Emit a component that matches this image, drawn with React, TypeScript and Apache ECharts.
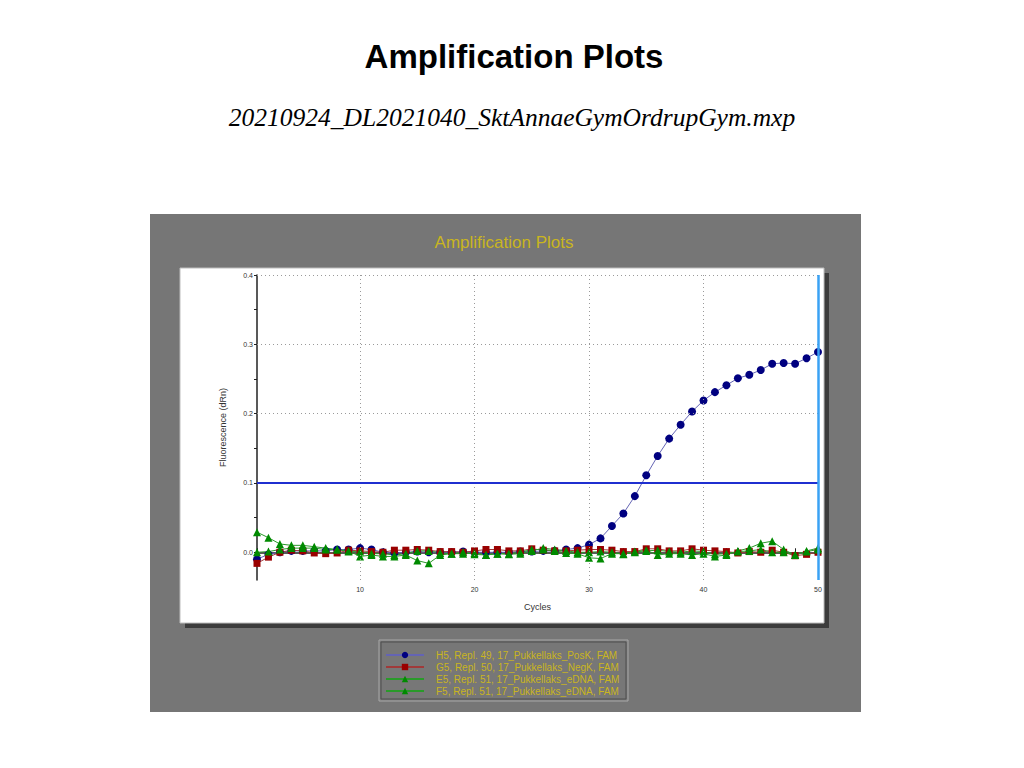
import React, { useEffect, useRef } from 'react';
import * as echarts from 'echarts';

// cycle numbers on the x axis
const cycles = [
  1, 2, 3, 4, 5, 6, 7, 8, 9, 10, 11, 12, 13, 14, 15, 16, 17, 18, 19, 20, 21, 22, 23, 24, 25,
  26, 27, 28, 29, 30, 31, 32, 33, 34, 35, 36, 37, 38, 39, 40, 41, 42, 43, 44, 45, 46, 47, 48, 49, 50,
];

const seriesNames = [
  'H5, Repl. 49, 17_Pukkellaks_PosK, FAM',
  'G5, Repl. 50, 17_Pukkellaks_NegK, FAM',
  'E5, Repl. 51, 17_Pukkellaks_eDNA, FAM',
  'F5, Repl. 51, 17_Pukkellaks_eDNA, FAM',
];

const posK = [
  -0.010, -0.003, 0.000, 0.002, 0.002, 0.002, 0.002, 0.004, 0.004, 0.006,
  0.004, 0.000, -0.001, 0.000, 0.001, 0.000, 0.000, 0.000, 0.001, 0.000,
  0.000, 0.000, 0.000, 0.001, 0.001, 0.002, 0.002, 0.004, 0.006, 0.011,
  0.020, 0.038, 0.056, 0.081, 0.111, 0.139, 0.164, 0.184, 0.203, 0.219,
  0.231, 0.241, 0.251, 0.256, 0.263, 0.272, 0.273, 0.272, 0.280, 0.289,
];

const negK = [
  -0.016, -0.007, 0.000, 0.003, 0.002, -0.001, -0.002, -0.001, 0.003, 0.002,
  0.001, 0.000, 0.003, 0.003, 0.004, 0.003, 0.001, 0.001, 0.000, 0.002,
  0.004, 0.004, 0.002, 0.002, 0.005, 0.003, 0.002, 0.002, 0.003, 0.004,
  0.004, 0.003, 0.001, 0.001, 0.005, 0.005, 0.002, 0.002, 0.005, 0.003,
  0.002, 0.001, -0.001, 0.001, 0.000, 0.003, 0.000, -0.005, -0.003, 0.000,
];

const eDnaE5 = [
  0.029, 0.021, 0.012, 0.010, 0.010, 0.008, 0.006, 0.004, 0.002, -0.006,
  -0.004, -0.006, -0.006, -0.004, -0.012, -0.016, -0.004, -0.002, -0.002, -0.001,
  -0.004, -0.002, -0.002, 0.000, 0.004, 0.004, 0.002, -0.001, -0.002, -0.008,
  -0.009, -0.002, -0.002, 0.000, 0.003, -0.004, -0.002, -0.002, -0.004, -0.002,
  -0.006, -0.004, 0.002, 0.006, 0.013, 0.016, 0.004, -0.004, 0.002, 0.006,
];

const eDnaF5 = [
  0.000, 0.001, 0.004, 0.006, 0.006, 0.006, 0.004, 0.004, 0.001, 0.001,
  -0.002, -0.002, -0.004, -0.002, 0.002, 0.002, -0.001, -0.002, 0.000, -0.003,
  -0.004, -0.002, -0.003, -0.002, 0.002, 0.006, 0.004, 0.002, 0.000, 0.000,
  0.001, 0.000, -0.003, 0.001, 0.002, 0.003, 0.001, 0.000, 0.002, 0.001,
  -0.003, -0.002, 0.001, 0.002, 0.004, 0.000, 0.000, -0.004, 0.001, 0.004,
];

const xLabels = [10, 20, 30, 40, 50];
const yLabels = [0, 0.1, 0.2, 0.3, 0.4];
const yTicks = [0, 0.05, 0.1, 0.15, 0.2, 0.25, 0.3, 0.35, 0.4];
const threshold = 0.1;

const FONT = '"Liberation Sans", Arial, sans-serif';
const YELLOW = '#c9b520';

const App: React.FC = () => {
  const chartRef = useRef<HTMLDivElement>(null);

  useEffect(() => {
    if (!chartRef.current) return;
    const chart = echarts.init(chartRef.current, null, { renderer: 'svg' });

    const pairs = (vals: number[]) => cycles.map((c, i) => [c, vals[i]]);

    const option = {
      animation: false,
      backgroundColor: '#ffffff',
      graphic: [
        {
          type: 'text',
          x: 514,
          y: 56,
          style: {
            text: 'Amplification Plots',
            font: `bold 33px ${FONT}`,
            fill: '#000',
            align: 'center',
            verticalAlign: 'middle',
          },
        },
        {
          type: 'text',
          x: 512,
          y: 117,
          style: {
            text: '20210924_DL2021040_SktAnnaeGymOrdrupGym.mxp',
            font: 'italic 25.5px "Liberation Serif", "Times New Roman", serif',
            fill: '#000',
            align: 'center',
            verticalAlign: 'middle',
          },
        },
        // grey frame
        { type: 'rect', z: -20, shape: { x: 150, y: 214, width: 711, height: 498 }, style: { fill: '#767676' } },
        // panel shadow + white plot panel
        { type: 'rect', z: -19, shape: { x: 185, y: 273, width: 644, height: 355 }, style: { fill: '#3c3c3c' } },
        { type: 'rect', z: -18, shape: { x: 180, y: 268, width: 644, height: 355 }, style: { fill: '#ffffff', stroke: '#bdbdbd', lineWidth: 1 } },
        {
          type: 'text',
          z: -17,
          x: 504,
          y: 242,
          style: {
            text: 'Amplification Plots',
            font: `17px ${FONT}`,
            fill: YELLOW,
            align: 'center',
            verticalAlign: 'middle',
          },
        },
        // legend box
        { type: 'rect', z: -17, shape: { x: 379, y: 640, width: 249, height: 61 }, style: { fill: '#777777', stroke: '#a8a8a8', lineWidth: 1 } },
        { type: 'rect', z: -16, shape: { x: 381, y: 642, width: 245, height: 57 }, style: { fill: '#777777', stroke: '#4e4e4e', lineWidth: 1 } },
      ],
      legend: {
        orient: 'vertical',
        left: 385,
        top: 650,
        padding: 0,
        itemWidth: 38,
        itemHeight: 8,
        itemGap: 2,
        selectedMode: false,
        data: seriesNames,
        textStyle: { color: YELLOW, fontSize: 10, fontFamily: FONT, padding: [0, 0, 0, 7], lineHeight: 9 },
      },
      grid: { left: 257, right: 206, top: 275, bottom: 188 },
      xAxis: {
        type: 'value',
        min: 1,
        max: 50,
        name: 'Cycles',
        nameLocation: 'middle',
        nameGap: 22,
        nameTextStyle: { color: '#333', fontSize: 9, fontFamily: FONT },
        axisLine: { show: true, lineStyle: { color: '#222', width: 1.5 } },
        axisTick: { show: true, inside: true, length: 4, customValues: cycles, lineStyle: { color: '#222' } },
        axisLabel: { customValues: xLabels, color: '#333', fontSize: 7, fontFamily: FONT, margin: 6 },
        splitLine: { show: false },
      },
      yAxis: {
        type: 'value',
        min: -0.04,
        max: 0.4,
        name: 'Fluorescence (dRn)',
        nameLocation: 'middle',
        nameGap: 30,
        nameTextStyle: { color: '#333', fontSize: 9, fontFamily: FONT },
        axisLine: { show: true, lineStyle: { color: '#222', width: 1.5 } },
        axisTick: { show: true, length: 3, customValues: yTicks, lineStyle: { color: '#222' } },
        axisLabel: {
          customValues: yLabels,
          color: '#333',
          fontSize: 7,
          fontFamily: FONT,
          margin: 4,
          formatter: (v: number) => v.toFixed(1),
        },
        splitLine: { show: false },
      },
      series: [
        {
          name: 'grid',
          type: 'line',
          data: [],
          silent: true,
          markLine: {
            silent: true,
            symbol: ['none', 'none'],
            label: { show: false },
            lineStyle: { color: '#9a9a9a', type: [1, 3], width: 1 },
            data: [
              ...xLabels.slice(0, 4).map((v) => ({ xAxis: v })),
              ...yLabels.slice(1).map((v) => ({ yAxis: v })),
            ],
          },
        },
        {
          name: 'limits',
          type: 'line',
          data: [],
          silent: true,
          markLine: {
            silent: true,
            symbol: ['none', 'none'],
            label: { show: false },
            data: [
              { yAxis: threshold, lineStyle: { color: '#1f2fd0', type: 'solid', width: 2 } },
              { xAxis: 50, lineStyle: { color: '#3aa2f4', type: 'solid', width: 2.5 } },
            ],
          },
        },
        {
          name: seriesNames[0],
          type: 'line',
          data: pairs(posK),
          symbol: 'circle',
          symbolSize: 8,
          itemStyle: { color: '#000080' },
          lineStyle: { color: '#6464b4', width: 1 },
        },
        {
          name: seriesNames[1],
          type: 'line',
          data: pairs(negK),
          symbol: 'rect',
          symbolSize: 7,
          itemStyle: { color: '#990000' },
          lineStyle: { color: '#a03a3a', width: 1 },
        },
        {
          name: seriesNames[2],
          type: 'line',
          data: pairs(eDnaE5),
          symbol: 'triangle',
          symbolSize: 8,
          itemStyle: { color: '#008a00' },
          lineStyle: { color: '#2a9a2a', width: 1 },
        },
        {
          name: seriesNames[3],
          type: 'line',
          data: pairs(eDnaF5),
          symbol: 'triangle',
          symbolSize: 8,
          itemStyle: { color: '#008a00' },
          lineStyle: { color: '#2a9a2a', width: 1 },
        },
      ],
    };

    chart.setOption(option);

    return () => {
      chart.dispose();
    };
  }, []);

  return (
    <div
      ref={chartRef}
      style={{ position: 'fixed', left: 0, top: 0, width: 1024, height: 768 }}
    />
  );
};

export default App;
